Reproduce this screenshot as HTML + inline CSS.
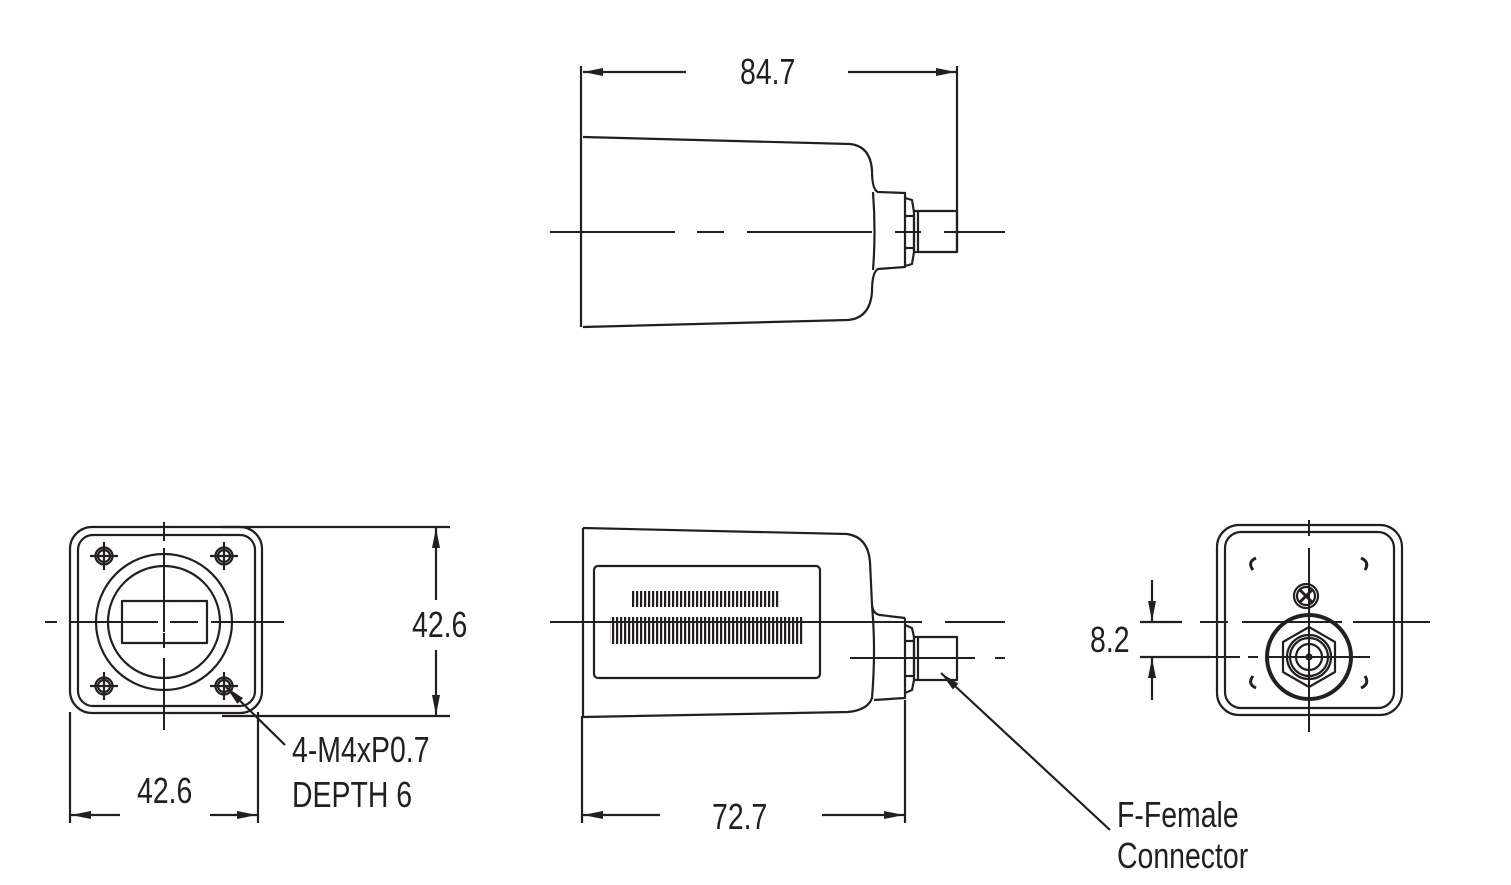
<!DOCTYPE html>
<html><head><meta charset="utf-8"><style>
html,body{margin:0;padding:0;background:#fff;}
svg{display:block;}
text{font-family:"Liberation Sans",sans-serif;font-size:36px;fill:#231f20;}
</style></head><body>
<svg width="1511" height="885" viewBox="0 0 1511 885" xmlns="http://www.w3.org/2000/svg">
<defs>
<marker id="a" viewBox="0 0 20 8" refX="20" refY="4" markerWidth="20" markerHeight="8" markerUnits="userSpaceOnUse" orient="auto"><path d="M0,0 L20,4 L0,8 Z" fill="#231f20"/></marker>
<pattern id="bc" x="0" y="0" width="4" height="10" patternUnits="userSpaceOnUse"><rect x="0" y="0" width="2.2" height="10" fill="#231f20"/></pattern>
</defs>
<g fill="none" stroke="#231f20" stroke-width="2.2" stroke-linejoin="round">

<!-- TOP VIEW -->
<line x1="581" y1="66" x2="581" y2="327"/>
<line x1="957" y1="66" x2="957" y2="252"/>
<line x1="686" y1="72" x2="583" y2="72" marker-end="url(#a)"/>
<line x1="848" y1="72" x2="956" y2="72" marker-end="url(#a)"/>
<path d="M583,137 L850,144 Q870,146 872,170 Q872,190 878,192 L905,193 L905,267 L878,269 Q872,272 872,292 Q870,318 848,320 L583,327"/>
<path d="M873,192 Q876,232 873,270"/>
<path d="M905,198 L912,200 L914,212 L914,252 L912,264 L905,266"/>
<line x1="905" y1="216" x2="914" y2="216"/><line x1="905" y1="248" x2="914" y2="248"/>
<rect x="914" y="211" width="43" height="41"/>
<line x1="918" y1="211" x2="918" y2="252"/>
<g stroke-width="2">
<line x1="550" y1="232" x2="675" y2="232"/><line x1="697" y1="232" x2="724" y2="232"/>
<line x1="747" y1="232" x2="872" y2="232"/><line x1="895" y1="232" x2="921" y2="232"/>
<line x1="944" y1="232" x2="1005" y2="232"/>
</g>

<!-- LEFT FRONT VIEW -->
<rect x="70" y="527" width="192" height="186" rx="22"/>
<rect x="78" y="535" width="177" height="171" rx="15"/>
<circle cx="164" cy="622" r="68"/>
<circle cx="164" cy="622" r="56"/>
<rect x="122" y="601" width="85" height="42"/>
<g stroke-width="2">
<line x1="45" y1="622" x2="57" y2="622"/><line x1="70" y1="622" x2="158" y2="622"/>
<line x1="170" y1="622" x2="198" y2="622"/><line x1="211" y1="622" x2="284" y2="622"/>
<line x1="164" y1="522" x2="164" y2="541"/><line x1="164" y1="548" x2="164" y2="632"/>
<line x1="164" y1="633" x2="164" y2="648"/><line x1="164" y1="658" x2="164" y2="730"/>
</g>
<g>
<circle cx="104" cy="556" r="8.5"/><circle cx="104" cy="556" r="6"/>
<line x1="90" y1="556" x2="118" y2="556"/><line x1="104" y1="542" x2="104" y2="570"/>
<circle cx="224" cy="556" r="8.5"/><circle cx="224" cy="556" r="6"/>
<line x1="210" y1="556" x2="238" y2="556"/><line x1="224" y1="542" x2="224" y2="570"/>
<circle cx="104" cy="686" r="8.5"/><circle cx="104" cy="686" r="6"/>
<line x1="90" y1="686" x2="118" y2="686"/><line x1="104" y1="672" x2="104" y2="700"/>
<circle cx="224" cy="686" r="8.5"/><circle cx="224" cy="686" r="6"/>
<line x1="210" y1="686" x2="238" y2="686"/><line x1="224" y1="672" x2="224" y2="700"/>
</g>
<line x1="222" y1="527" x2="450" y2="527"/>
<line x1="222" y1="716" x2="450" y2="716"/>
<line x1="436" y1="600" x2="436" y2="528" marker-end="url(#a)"/>
<line x1="436" y1="650" x2="436" y2="715" marker-end="url(#a)"/>
<line x1="70" y1="712" x2="70" y2="823"/>
<line x1="258" y1="712" x2="258" y2="823"/>
<line x1="120" y1="815" x2="71" y2="815" marker-end="url(#a)"/>
<line x1="210" y1="815" x2="257" y2="815" marker-end="url(#a)"/>
<line x1="285" y1="745" x2="226" y2="687" marker-end="url(#a)"/>

<!-- BOTTOM MIDDLE VIEW -->
<line x1="582" y1="716" x2="582" y2="823"/>
<line x1="905" y1="700" x2="905" y2="823"/>
<line x1="660" y1="815" x2="583" y2="815" marker-end="url(#a)"/>
<line x1="822" y1="815" x2="904" y2="815" marker-end="url(#a)"/>
<path d="M583,528 L847,534 Q868,537 870,562 L872,605 Q873,614 880,615 L905,618"/>
<path d="M872,605 Q876,650 872,698 Q868,710 848,712 L583,717"/>
<path d="M874,700 L905,698 L905,618"/>
<line x1="583" y1="528" x2="583" y2="717"/>
<path d="M905,625 L912,628 L914,637 L914,680 L912,690 L905,693"/>
<line x1="905" y1="641" x2="914" y2="641"/><line x1="905" y1="676" x2="914" y2="676"/>
<rect x="914" y="637" width="43" height="43"/>
<line x1="918" y1="637" x2="918" y2="680"/>
<rect x="594" y="566" width="226" height="112" rx="4"/>
<g stroke-width="2">
<line x1="550" y1="622" x2="898" y2="622"/><line x1="896" y1="622" x2="922" y2="622"/>
<line x1="945" y1="622" x2="1005" y2="622"/>
<line x1="850" y1="658" x2="975" y2="658"/><line x1="995" y1="658" x2="1005" y2="658"/>
</g>
<line x1="1110" y1="830" x2="941" y2="673" marker-end="url(#a)"/>

<!-- RIGHT FRONT VIEW -->
<rect x="1217" y="525" width="185" height="190" rx="22"/>
<rect x="1225" y="532" width="169" height="176" rx="16"/>
<g stroke-width="2">
<line x1="1309" y1="520" x2="1309" y2="536"/><line x1="1309" y1="548" x2="1309" y2="732"/>
<line x1="1200" y1="622" x2="1228" y2="622"/><line x1="1242" y1="622" x2="1342" y2="622"/>
<line x1="1353" y1="622" x2="1430" y2="622"/>
<line x1="1200" y1="657" x2="1240" y2="657"/><line x1="1248" y1="657" x2="1258" y2="657"/>
<line x1="1266" y1="657" x2="1370" y2="657"/>
</g>
<circle cx="1306" cy="596" r="12"/><circle cx="1306" cy="596" r="9"/>
<line x1="1300" y1="590" x2="1312" y2="602" stroke-width="3"/><line x1="1312" y1="590" x2="1300" y2="602" stroke-width="3"/>
<circle cx="1309" cy="657" r="42" stroke-width="4"/>
<polygon points="1309,627 1335,642 1335,672 1309,687 1283,672 1283,642"/>
<circle cx="1309" cy="657" r="22"/><circle cx="1309" cy="657" r="19"/>
<circle cx="1309" cy="657" r="13"/>
<circle cx="1309" cy="657" r="2.5" fill="#231f20"/>
<path d="M1253,570 Q1247,562 1256,558" stroke-width="3"/>
<path d="M1361,558 Q1370,562 1365,570" stroke-width="3"/>
<path d="M1253,676 Q1247,684 1256,688" stroke-width="3"/>
<path d="M1365,676 Q1370,684 1361,688" stroke-width="3"/>
<line x1="1140" y1="622" x2="1182" y2="622"/>
<line x1="1140" y1="657" x2="1210" y2="657"/>
<line x1="1152" y1="580" x2="1152" y2="621" marker-end="url(#a)"/>
<line x1="1152" y1="700" x2="1152" y2="658" marker-end="url(#a)"/>
</g>

<rect x="632" y="591" width="148" height="16" fill="url(#bc)"/>
<rect x="610" y="617" width="194" height="27" fill="url(#bc)"/>

<text transform="translate(740,84) scale(0.79,1)">84.7</text>
<text transform="translate(412,637) scale(0.79,1)">42.6</text>
<text transform="translate(137,803) scale(0.79,1)">42.6</text>
<text transform="translate(292,762) scale(0.79,1)">4-M4xP0.7</text>
<text transform="translate(292,807) scale(0.79,1)">DEPTH 6</text>
<text transform="translate(712,829) scale(0.79,1)">72.7</text>
<text transform="translate(1117,827) scale(0.79,1)">F-Female</text>
<text transform="translate(1117,868) scale(0.79,1)">Connector</text>
<text transform="translate(1090,652) scale(0.79,1)">8.2</text>
</svg>
</body></html>
